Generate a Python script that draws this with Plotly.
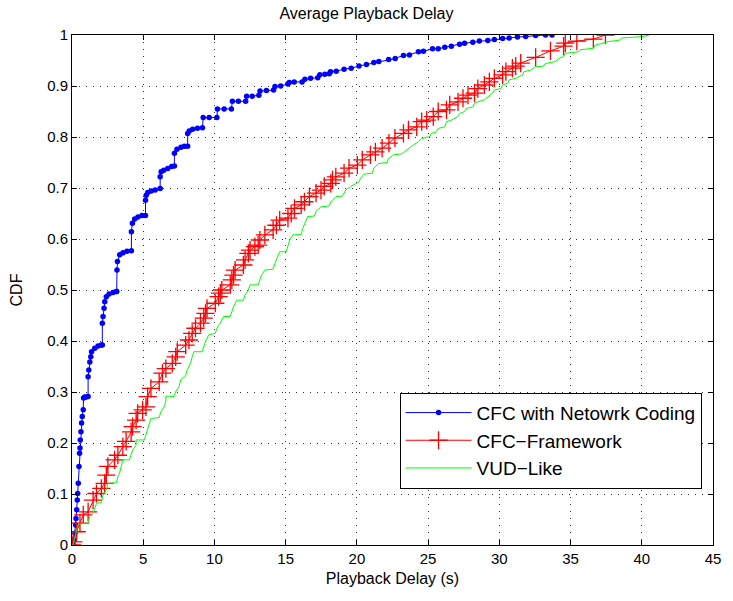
import plotly.graph_objects as go

# Blue: CFC with Network Coding (delay in s, CDF)
nc_x = [0.0, 0.09, 0.16, 0.21, 0.26, 0.28, 0.33, 0.37, 0.40, 0.44, 0.49, 0.53, 0.56, 0.58, 0.63, 0.67, 0.72, 0.79, 0.81, 0.90, 1.00, 1.13,
        1.13, 1.18, 1.25, 1.32, 1.37, 1.60, 1.83, 2.06, 2.13, 2.13, 2.18, 2.25, 2.30, 2.41, 2.60, 2.88, 3.11,
        3.14, 3.16, 3.19, 3.35, 3.58, 3.86, 4.17, 4.17, 4.24, 4.40, 4.63, 4.91, 5.16,
        5.16, 5.21, 5.32, 5.56, 5.84, 6.19, 6.19, 6.26, 6.44, 6.72, 7.00, 7.19,
        7.19, 7.37, 7.65, 7.89, 8.12, 8.12, 8.23, 8.47, 8.81, 9.16,
        9.21, 9.63, 10.17, 10.21, 10.68, 11.19, 11.26, 11.68, 12.19, 12.26, 12.65, 13.12,
        13.20, 13.65, 14.15, 14.25, 14.65, 15.15, 15.25, 15.60, 16.15, 16.35, 16.75, 17.25, 17.40, 17.75, 18.06,
        18.15, 18.55, 19.10, 19.60, 20.15, 20.67, 21.19, 21.54, 22.23, 22.69, 23.27, 23.69, 24.32, 24.67,
        25.31, 25.71, 26.17, 26.63, 27.21, 27.56, 28.14, 28.60, 29.19, 29.65, 30.23, 30.69, 31.27, 31.85,
        32.55, 33.24, 33.70]
nc_y = [0.0, 0.0, 0.010, 0.023, 0.039, 0.052, 0.069, 0.088, 0.101, 0.121, 0.154, 0.180, 0.190, 0.206, 0.222, 0.239, 0.252, 0.265, 0.288, 0.290, 0.290, 0.291,
        0.330, 0.343, 0.359, 0.369, 0.379, 0.386, 0.390, 0.392, 0.392, 0.435, 0.448, 0.464, 0.477, 0.487, 0.492, 0.495, 0.497,
        0.497, 0.539, 0.556, 0.569, 0.573, 0.576, 0.577, 0.614, 0.631, 0.639, 0.643, 0.646, 0.646,
        0.676, 0.686, 0.691, 0.694, 0.696, 0.699, 0.722, 0.732, 0.735, 0.738, 0.742, 0.743,
        0.768, 0.776, 0.780, 0.782, 0.782, 0.807, 0.812, 0.815, 0.817, 0.818,
        0.838, 0.838, 0.838, 0.855, 0.855, 0.855, 0.870, 0.870, 0.870, 0.880, 0.880, 0.882,
        0.890, 0.891, 0.892, 0.899, 0.900, 0.904, 0.907, 0.908, 0.908, 0.913, 0.915, 0.916, 0.922, 0.923, 0.924,
        0.928, 0.929, 0.933, 0.935, 0.939, 0.942, 0.946, 0.948, 0.952, 0.954, 0.960, 0.961, 0.967, 0.968,
        0.973, 0.973, 0.976, 0.978, 0.982, 0.984, 0.986, 0.988, 0.989, 0.991, 0.993, 0.994, 0.996, 0.997,
        0.999, 1.000, 1.000]

# Red: CFC-Framework
fw_x = [0.0, 0.09, 0.33, 0.56, 0.79, 1.13, 1.48, 1.72, 2.06, 2.29, 2.41, 2.52, 2.99, 3.22, 3.57, 3.80, 4.15, 4.26, 4.50, 4.61, 4.96, 5.19,
        5.31, 5.54, 6.12, 6.35, 6.59, 7.04, 7.28, 7.39, 7.98, 8.21, 8.44, 8.67, 9.02, 9.25, 9.37, 9.48,
        10.06, 10.29, 10.41, 10.52, 11.11, 11.22, 11.34, 11.45, 12.03, 12.15, 12.38, 12.50, 12.84,
        13.07, 13.19, 13.54, 14.12, 14.35, 14.58, 15.16, 15.39, 15.62, 16.09, 16.32, 16.67, 17.13, 17.48, 17.71,
        18.17, 18.29, 18.52, 19.10, 19.45, 20.03, 20.38, 20.95, 21.30, 21.77, 22.25, 22.67,
        23.27, 23.62, 24.20, 24.55, 24.90, 25.36, 25.71, 26.29, 26.52, 27.10, 27.45, 27.80, 28.26, 28.49,
        28.95, 29.30, 29.65, 30.23, 30.46, 30.92, 31.15, 31.50, 32.55, 33.59, 34.51, 34.63, 35.44, 36.60, 37.45]
fw_y = [0.0, 0.006, 0.026, 0.043, 0.059, 0.065, 0.088, 0.101, 0.111, 0.121, 0.137, 0.154, 0.167, 0.176, 0.193, 0.203, 0.222, 0.232, 0.245, 0.258, 0.265, 0.271,
        0.291, 0.307, 0.320, 0.337, 0.346, 0.356, 0.369, 0.379, 0.392, 0.402, 0.415, 0.425, 0.435, 0.445, 0.454, 0.464,
        0.474, 0.487, 0.494, 0.500, 0.510, 0.520, 0.529, 0.539, 0.549, 0.559, 0.572, 0.578, 0.585,
        0.588, 0.598, 0.608, 0.618, 0.627, 0.637, 0.641, 0.650, 0.660, 0.667, 0.673, 0.683, 0.690, 0.696, 0.703,
        0.709, 0.716, 0.722, 0.729, 0.739, 0.745, 0.755, 0.765, 0.771, 0.778, 0.788, 0.798,
        0.807, 0.814, 0.820, 0.830, 0.833, 0.840, 0.850, 0.853, 0.863, 0.869, 0.876, 0.882, 0.886, 0.895,
        0.902, 0.908, 0.915, 0.922, 0.928, 0.935, 0.939, 0.945, 0.956, 0.969, 0.978, 0.984, 0.988, 0.992, 1.000]

# Green: VUD-Like
vud_x = [0.0, 0.09, 0.21, 0.33, 0.44, 1.13, 1.25, 1.48, 1.60, 1.72, 2.06, 2.18, 2.41, 2.52, 3.11, 3.22, 3.34, 3.46, 3.57, 4.03, 4.15, 4.26, 4.50, 4.50,
         5.08, 5.19, 5.31, 5.42, 5.54, 6.12, 6.24, 6.47, 6.59, 6.59, 7.04, 7.16, 7.28, 7.51, 7.63, 7.98, 8.09, 8.32, 8.44, 8.55,
         9.13, 9.25, 9.37, 9.60, 10.06, 10.17, 10.41, 10.64, 11.10, 11.22, 11.34, 11.57, 12.03, 12.15, 12.38, 12.50,
         13.07, 13.19, 13.30, 13.54, 14.12, 14.24, 14.46, 14.58, 15.04, 15.16, 15.28, 15.51, 16.09, 16.20, 16.43, 16.55,
         17.02, 17.13, 17.48, 18.06, 18.17, 18.52, 18.98, 19.22, 19.56, 20.15, 20.26, 20.49, 21.07, 21.19, 21.54,
         22.11, 22.23, 22.58, 23.16, 23.50, 24.00, 24.30, 24.55, 25.13, 25.24, 25.59, 25.71, 26.17, 26.29, 26.63,
         27.10, 27.21, 27.56, 27.68, 28.14, 28.26, 28.49, 28.95, 29.19, 29.53, 29.65, 30.11, 30.23, 30.58, 30.69,
         31.15, 31.62, 31.73, 32.20, 32.55, 33.01, 33.24, 33.94, 34.17, 34.51, 34.63, 35.56, 35.67, 36.60, 36.72,
         37.65, 38.46, 38.57, 40.08, 40.54]
vud_y = [0.0, 0.0, 0.016, 0.029, 0.041, 0.043, 0.056, 0.062, 0.072, 0.082, 0.083, 0.098, 0.108, 0.121, 0.122, 0.134, 0.141, 0.154, 0.167, 0.167, 0.176, 0.186, 0.196, 0.206,
         0.206, 0.216, 0.225, 0.239, 0.248, 0.250, 0.261, 0.271, 0.281, 0.292, 0.292, 0.291, 0.301, 0.310, 0.324, 0.333, 0.343, 0.356, 0.369, 0.379,
         0.379, 0.389, 0.399, 0.412, 0.415, 0.425, 0.435, 0.448, 0.448, 0.457, 0.467, 0.480, 0.480, 0.490, 0.500, 0.510,
         0.510, 0.520, 0.529, 0.539, 0.541, 0.552, 0.565, 0.575, 0.575, 0.585, 0.598, 0.608, 0.609, 0.621, 0.634, 0.644,
         0.645, 0.654, 0.663, 0.665, 0.673, 0.683, 0.684, 0.696, 0.703, 0.712, 0.719, 0.727, 0.729, 0.739, 0.748,
         0.750, 0.758, 0.765, 0.767, 0.775, 0.785, 0.790, 0.797, 0.801, 0.807, 0.810, 0.817, 0.820, 0.830, 0.833,
         0.840, 0.846, 0.850, 0.856, 0.859, 0.866, 0.869, 0.873, 0.879, 0.886, 0.892, 0.895, 0.902, 0.905, 0.912,
         0.915, 0.922, 0.928, 0.931, 0.938, 0.938, 0.944, 0.948, 0.954, 0.958, 0.964, 0.967, 0.971, 0.974, 0.980,
         0.987, 0.990, 0.994, 0.997, 1.000]

x_ticks = [0, 5, 10, 15, 20, 25, 30, 35, 40, 45]
y_ticks = [0, 0.1, 0.2, 0.3, 0.4, 0.5, 0.6, 0.7, 0.8, 0.9, 1]
y_tick_text = ["0", "0.1", "0.2", "0.3", "0.4", "0.5", "0.6", "0.7", "0.8", "0.9", "1"]

FONT = "Liberation Sans, Arial, Helvetica, sans-serif"

fig = go.Figure()
fig.add_trace(go.Scatter(x=nc_x, y=nc_y, mode="lines+markers", name="CFC with Netowrk Coding",
                         line=dict(color="#0000ff", width=1),
                         marker=dict(symbol="circle", size=5.5, color="#0000ff")))
fig.add_trace(go.Scatter(x=fw_x, y=fw_y, mode="lines+markers", name="CFC\u2212Framework",
                         line=dict(color="#ff0000", width=1),
                         marker=dict(symbol="cross-thin", size=13, color="#ff0000",
                                     line=dict(color="#ff0000", width=1.3))))
fig.add_trace(go.Scatter(x=vud_x, y=vud_y, mode="lines", name="VUD\u2212Like",
                         line=dict(color="#00ff00", width=1)))

axis_common = dict(showline=True, linecolor="black", linewidth=1, mirror="ticks",
                   ticks="inside", ticklen=5, tickcolor="black",
                   showgrid=True, gridcolor="#333333", griddash="1px,6px", gridwidth=1,
                   zeroline=False, tickfont=dict(family=FONT, size=15, color="black"))

fig.update_xaxes(range=[0, 45], tickvals=x_ticks, ticktext=[str(v) for v in x_ticks],
                 title=dict(text="Playback Delay (s)", font=dict(family=FONT, size=16, color="black"), standoff=6),
                 **axis_common)
fig.update_yaxes(range=[0, 1], tickvals=y_ticks, ticktext=y_tick_text,
                 title=dict(text="CDF", font=dict(family=FONT, size=16, color="black"), standoff=20),
                 **axis_common)

fig.update_layout(
    width=733, height=601,
    margin=dict(l=72, r=14, t=35, b=56),
    paper_bgcolor="white", plot_bgcolor="white",
    title=dict(text="Average Playback Delay", x=0.5, xanchor="center", y=1 - 13 / 601, yanchor="middle",
               font=dict(family=FONT, size=16, color="black")),
    legend=dict(x=0.511, y=0.2986, xanchor="left", yanchor="top",
                bgcolor="white", bordercolor="black", borderwidth=1,
                font=dict(family=FONT, size=19, color="black"),
                itemwidth=66, tracegroupgap=4),
    showlegend=True,
)

fig.write_html("out.html")
